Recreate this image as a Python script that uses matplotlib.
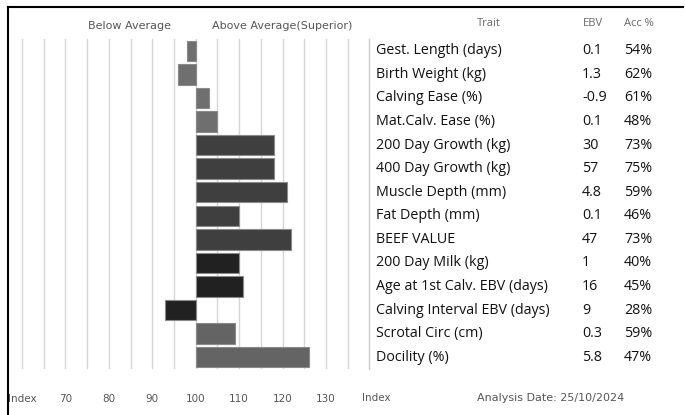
import matplotlib.pyplot as plt
from matplotlib.lines import Line2D
from matplotlib.transforms import blended_transform_factory

traits = ["Gest. Length (days)", "Birth Weight (kg)", "Calving Ease (%)", "Mat.Calv. Ease (%)",
          "200 Day Growth (kg)", "400 Day Growth (kg)", "Muscle Depth (mm)", "Fat Depth (mm)",
          "BEEF VALUE", "200 Day Milk (kg)", "Age at 1st Calv. EBV (days)",
          "Calving Interval EBV (days)", "Scrotal Circ (cm)", "Docility (%)"]
ebv = ["0.1", "1.3", "-0.9", "0.1", "30", "57", "4.8", "0.1", "47", "1", "16", "9", "0.3", "5.8"]
acc = ["54%", "62%", "61%", "48%", "73%", "75%", "59%", "46%", "73%", "40%", "45%", "28%", "59%", "47%"]
index = [98, 96, 103, 105, 118, 118, 121, 110, 122, 110, 111, 93, 109, 126]
group_colors = ["#6f6f6f"] * 4 + ["#3f3f3f"] * 5 + ["#212121"] * 3 + ["#646464"] * 2
tick_vals = [60, 70, 80, 90, 100, 110, 120, 130]
tick_labels = ["Index", "70", "80", "90", "100", "110", "120", "130"]

fig = plt.figure(figsize=(6.85, 4.15), dpi=100)
ax = fig.add_axes([13.3 / 685, 46 / 415, 343.1 / 685, 330 / 415])

rows = list(range(len(traits)))
widths = [v - 100 for v in index]
ax.barh(rows, widths, left=100, height=0.87, color=group_colors,
        edgecolor="#8a8a8a", linewidth=0.8, zorder=3)

ax.set_xlim(58, 137)
ax.set_ylim(13.5, -0.5)
ax.set_xticks(tick_vals)
ax.set_xticklabels(tick_labels)
ax.set_xticks(range(60, 140, 5), minor=True)
ax.set_yticks([])
ax.grid(axis="x", which="both", color="#d6d6d6", linewidth=1.0, zorder=0)
ax.tick_params(axis="x", which="both", length=0, labelsize=7.5, labelcolor="#555555", pad=18)
for s in ax.spines.values():
    s.set_visible(False)

fig.text(129.5 / 685, 1 - 26 / 415, "Below Average", ha="center", va="center",
         fontsize=8, color="#555555")
fig.text(281.7 / 685, 1 - 26 / 415, "Above Average(Superior)", ha="center", va="center",
         fontsize=8, color="#555555")

# table on the right
tr = blended_transform_factory(fig.transFigure, ax.transData)
tfont = "Open Sans"
for i in rows:
    ax.text(376 / 685, i, traits[i], transform=tr, ha="left", va="center",
            fontsize=10.3, color="#111111", family=tfont)
    ax.text(582 / 685, i, ebv[i], transform=tr, ha="left", va="center",
            fontsize=10.3, color="#111111", family=tfont)
    ax.text(624 / 685, i, acc[i], transform=tr, ha="left", va="center",
            fontsize=10.3, color="#111111", family=tfont)

hy = 1 - 23 / 415
fig.text(489 / 685, hy, "Trait", ha="center", va="center", fontsize=8, color="#666666", family=tfont)
fig.text(593 / 685, hy, "EBV", ha="center", va="center", fontsize=8, color="#666666", family=tfont)
fig.text(639 / 685, hy, "Acc %", ha="center", va="center", fontsize=8, color="#666666", family=tfont)

fig.add_artist(Line2D([369 / 685, 369 / 685], [1 - 39 / 415, 1 - 369 / 415],
                      color="#cccccc", linewidth=1))

fy = 1 - 398 / 415
fig.text(362 / 685, fy, "Index", ha="left", va="center", fontsize=7.5, color="#555555")
fig.text(477 / 685, fy, "Analysis Date: 25/10/2024", ha="left", va="center",
         fontsize=8, color="#555555")

# frame lines top and left
fig.add_artist(Line2D([8 / 685, 683 / 685], [1 - 7 / 415, 1 - 7 / 415], color="black", linewidth=1.5))
fig.add_artist(Line2D([8 / 685, 8 / 685], [1 - 7 / 415, 0], color="black", linewidth=1.5))

fig.savefig("out.png", dpi=100)
